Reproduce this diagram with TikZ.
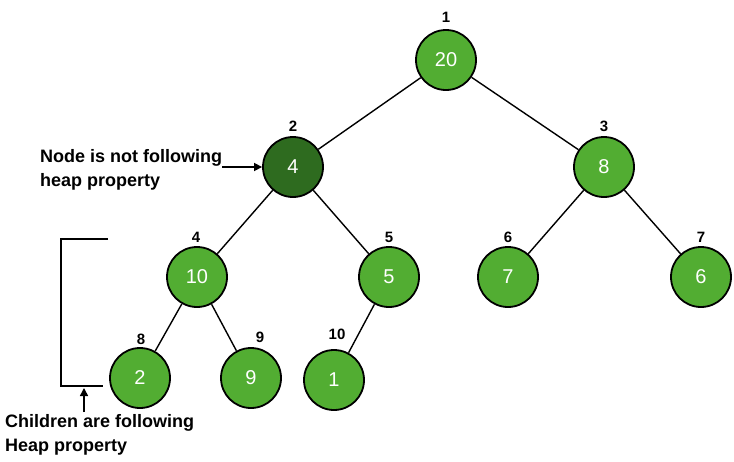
\documentclass[tikz,border=0pt]{standalone}
\usepackage{fontspec}
\setmainfont{Liberation Sans}
\usetikzlibrary{arrows.meta}
\definecolor{hgreen}{HTML}{52AD32}
\definecolor{hdark}{HTML}{2E6B1F}
\begin{document}
\begin{tikzpicture}[x=1pt,y=-1pt,
  hnode/.style={circle,draw=black,line width=1.8pt,fill=hgreen,minimum size=60pt,inner sep=0pt,text=white,font=\fontsize{20}{22}\selectfont},
  idx/.style={font=\bfseries\fontsize{15}{17}\selectfont,inner sep=0pt},
  note/.style={font=\bfseries\fontsize{18}{24}\selectfont,align=left,inner sep=0pt},
  edge/.style={line width=1.4pt},
  arr/.style={line width=1.5pt,-{Triangle[length=8pt,width=8pt]}}]
\useasboundingbox (0,0) rectangle (734,461);
\node[hnode] (n1) at (446,60) {20};
\node[hnode,fill=hdark] (n2) at (293,167) {4};
\node[hnode] (n3) at (604,167) {8};
\node[hnode] (n4) at (197,277) {10};
\node[hnode] (n5) at (389,277) {5};
\node[hnode] (n6) at (508,277) {7};
\node[hnode] (n7) at (701,277) {6};
\node[hnode] (n8) at (140,378) {2};
\node[hnode] (n9) at (251,378) {9};
\node[hnode] (n10) at (334,380) {1};
\draw[edge] (n1) -- (n2);
\draw[edge] (n1) -- (n3);
\draw[edge] (n2) -- (n4);
\draw[edge] (n2) -- (n5);
\draw[edge] (n3) -- (n6);
\draw[edge] (n3) -- (n7);
\draw[edge] (n4) -- (n8);
\draw[edge] (n4) -- (n9);
\draw[edge] (n5) -- (n10);
\node[idx] (i1) at (446,17) {1};
\node[idx] (i2) at (293,126) {2};
\node[idx] (i3) at (604,126) {3};
\node[idx] (i4) at (196,237) {4};
\node[idx] (i5) at (389,237) {5};
\node[idx] (i6) at (508,237) {6};
\node[idx] (i7) at (701,237) {7};
\node[idx] (i8) at (141,339) {8};
\node[idx] (i9) at (260,337) {9};
\node[idx] (i10) at (337,334) {10};
\node[note,anchor=west] (t1) at (40,170) {Node is not following\\heap property};
\coordinate (a1) at (222,167);
\draw[arr] (a1) -- (n2.west);
\coordinate (b1) at (108,239);
\coordinate (b2) at (61,239);
\coordinate (b3) at (61,386);
\coordinate (b4) at (103,386);
\draw[line width=1.6pt] (b1) -- (b2) -- (b3) -- (b4);
\node[note,anchor=north west] (t2) at (5,414) {Children are following\\Heap property};
\coordinate (c1) at (84,412);
\coordinate (c2) at (84,388);
\draw[arr] (c1) -- (c2);
\end{tikzpicture}
\end{document}
